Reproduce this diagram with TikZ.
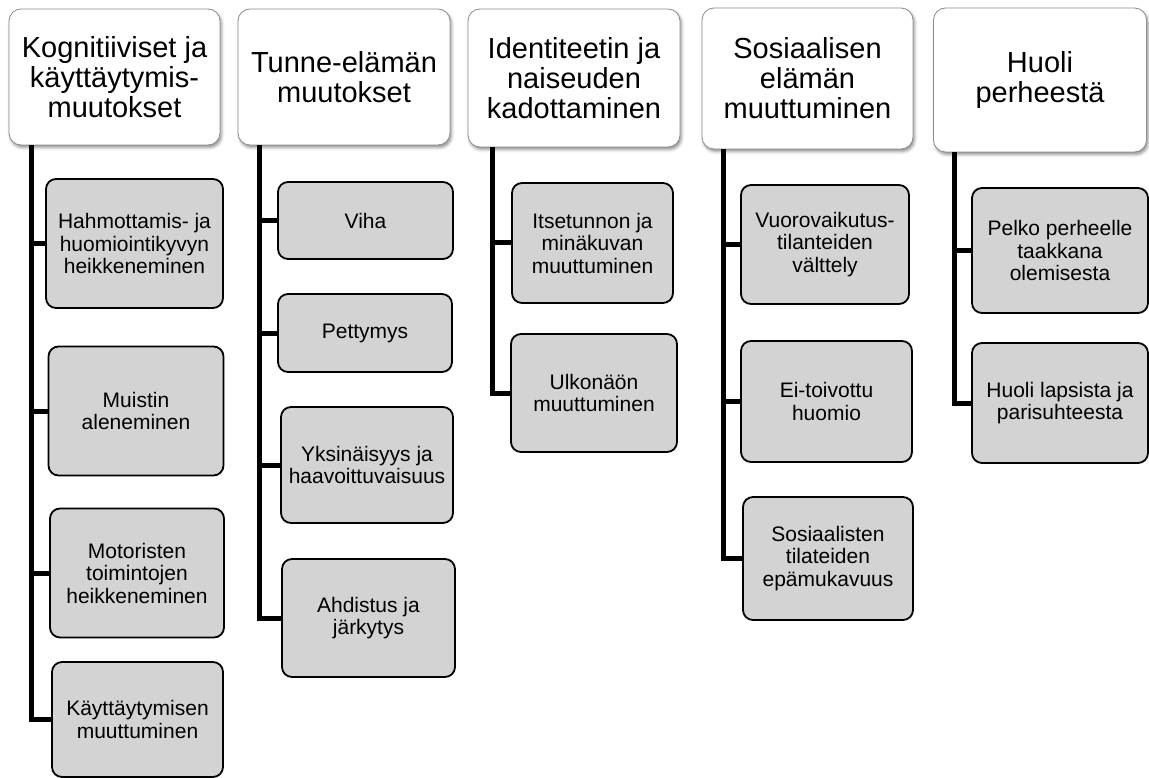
\documentclass[tikz,border=0pt]{standalone}
\usepackage{fontspec}
\setmainfont{Liberation Sans}
\usetikzlibrary{shadows.blur}
\definecolor{childfill}{RGB}{211,211,211}
\definecolor{headborder}{RGB}{140,140,140}
\tikzset{
  headbox/.style={draw=headborder, line width=0.8pt, fill=white, rounded corners=12pt,
    align=center, inner sep=0pt, font=\fontsize{29}{30}\selectfont,
    blur shadow={shadow xshift=1.5pt, shadow yshift=-2.5pt, shadow blur radius=3pt, shadow opacity=45}},
  childbox/.style={draw=black, line width=1.8pt, fill=childfill, rounded corners=10pt,
    align=center, inner sep=0pt, font=\fontsize{21}{22.5}\selectfont},
  trunk/.style={draw=black, line width=5pt, line join=miter},
}
\begin{document}
\begin{tikzpicture}[x=1pt,y=-1pt]
\useasboundingbox (0,0) rectangle (1149,778);
% headers
\node[headbox, minimum width=211pt, minimum height=136pt] (h1) at (114.5,77) {Kognitiiviset ja\\käyttäytymis-\\muutokset};
\node[headbox, minimum width=212pt, minimum height=136pt] (h2) at (344,77) {Tunne-elämän\\muutokset};
\node[headbox, minimum width=212pt, minimum height=138pt] (h3) at (574,78) {Identiteetin ja\\naiseuden\\kadottaminen};
\node[headbox, minimum width=211pt, minimum height=141pt] (h4) at (807.5,78.5) {Sosiaalisen\\elämän\\muuttuminen};
\node[headbox, minimum width=213pt, minimum height=144pt] (h5) at (1040,80) {Huoli\\perheestä};
% trunk x positions
\coordinate (t1) at (31,0);
\coordinate (t2) at (259,0);
\coordinate (t3) at (492,0);
\coordinate (t4) at (723,0);
\coordinate (t5) at (954,0);
% column 1
\node[childbox, minimum width=177pt, minimum height=129pt] (c11) at (134.5,243.5) {Hahmottamis- ja\\huomiointikyvyn\\heikkeneminen};
\node[childbox, minimum width=175pt, minimum height=129pt] (c12) at (136,411) {Muistin\\aleneminen};
\node[childbox, minimum width=174pt, minimum height=129pt] (c13) at (137,573) {Motoristen\\toimintojen\\heikkeneminen};
\node[childbox, minimum width=171pt, minimum height=115pt] (c14) at (137.5,719.5) {Käyttäytymisen\\muuttuminen};
% column 2
\node[childbox, minimum width=175pt, minimum height=77pt] (c21) at (365.5,220.5) {Viha};
\node[childbox, minimum width=174pt, minimum height=78pt] (c22) at (365,333) {Pettymys};
\node[childbox, minimum width=172pt, minimum height=116pt] (c23) at (367,465) {Yksinäisyys ja\\haavoittuvaisuus};
\node[childbox, minimum width=173pt, minimum height=118pt] (c24) at (368.5,618) {Ahdistus ja\\järkytys};
% column 3
\node[childbox, minimum width=161pt, minimum height=120pt] (c31) at (592.5,243) {Itsetunnon ja\\minäkuvan\\muuttuminen};
\node[childbox, minimum width=166pt, minimum height=118pt] (c32) at (594,393) {Ulkonäön\\muuttuminen};
% column 4
\node[childbox, minimum width=168pt, minimum height=119pt] (c41) at (825,244.5) {Vuorovaikutus-\\tilanteiden\\välttely};
\node[childbox, minimum width=171pt, minimum height=121pt] (c42) at (826.5,401.5) {Ei-toivottu\\huomio};
\node[childbox, minimum width=170pt, minimum height=123pt] (c43) at (828,558.5) {Sosiaalisten\\tilateiden\\epämukavuus};
% column 5
\node[childbox, minimum width=176pt, minimum height=125pt] (c51) at (1060,250.5) {Pelko perheelle\\taakkana\\olemisesta};
\node[childbox, minimum width=176pt, minimum height=120pt] (c52) at (1060,403) {Huoli lapsista ja\\parisuhteesta};
% connectors
\draw[trunk] (t1 |- h1.south) |- (c14.west);
\draw[trunk] (t1 |- c11.west) -- (c11.west);
\draw[trunk] (t1 |- c12.west) -- (c12.west);
\draw[trunk] (t1 |- c13.west) -- (c13.west);
\draw[trunk] (t2 |- h2.south) |- (c24.west);
\draw[trunk] (t2 |- c21.west) -- (c21.west);
\draw[trunk] (t2 |- c22.west) -- (c22.west);
\draw[trunk] (t2 |- c23.west) -- (c23.west);
\draw[trunk] (t3 |- h3.south) |- (c32.west);
\draw[trunk] (t3 |- c31.west) -- (c31.west);
\draw[trunk] (t4 |- h4.south) |- (c43.west);
\draw[trunk] (t4 |- c41.west) -- (c41.west);
\draw[trunk] (t4 |- c42.west) -- (c42.west);
\draw[trunk] (t5 |- h5.south) |- (c52.west);
\draw[trunk] (t5 |- c51.west) -- (c51.west);
\end{tikzpicture}
\end{document}
